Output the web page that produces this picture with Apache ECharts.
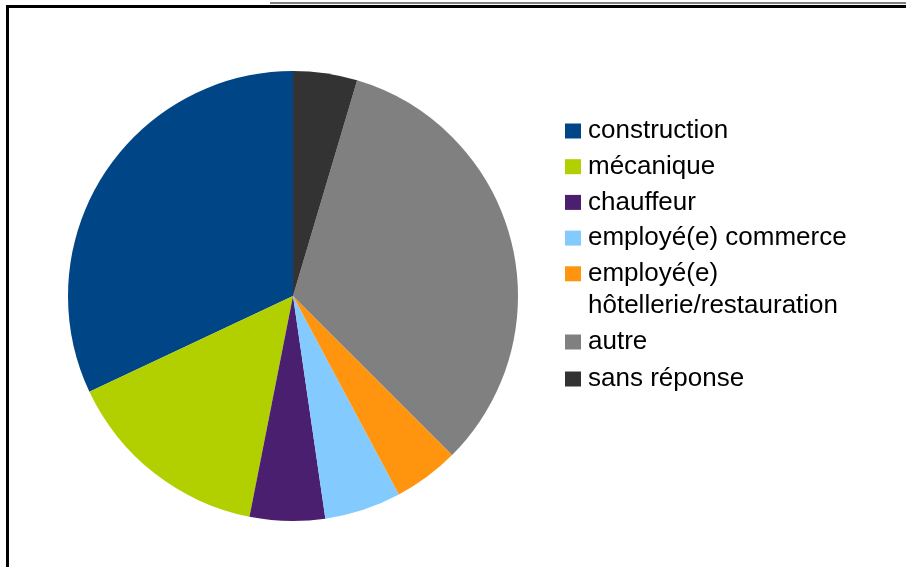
<!DOCTYPE html>
<html>
<head>
<meta charset="utf-8">
<script src="https://cdn.jsdelivr.net/npm/echarts@6/dist/echarts.min.js"></script>
<style>
  html, body { margin: 0; padding: 0; background: #fff; }
  #chart { width: 906px; height: 567px; }
</style>
</head>
<body>
<div id="chart"></div>
<script>
  // métiers (share of answers)
  const categories = ['construction', 'mécanique', 'chauffeur', 'employé(e) commerce',
    'employé(e) hôtellerie/restauration', 'autre', 'sans réponse'];
  const values = [32.0, 14.9, 5.4, 5.5, 4.7, 32.9, 4.6];
  const colors = ['#004586', '#b2cf00', '#4b1f6f', '#83caff', '#ff950e', '#808080', '#333333'];

  const font = '"Liberation Sans", Arial, sans-serif';
  const legendText = {
    fontFamily: font, fontSize: 26, color: '#000', lineHeight: 33, padding: [0, 0, 0, 2]
  };

  const chart = echarts.init(document.getElementById('chart'));
  chart.setOption({
    animation: false,
    color: colors,
    legend: [
      {
        // first block, the orange entry only shows its first line here
        data: categories.slice(0, 5),
        orient: 'vertical',
        left: 565, top: 114.5,
        padding: 0, itemGap: 2.7,
        itemWidth: 16, itemHeight: 15,
        icon: 'rect',
        selectedMode: false,
        textStyle: legendText,
        formatter: name => name === categories[4] ? 'employé(e)' : name
      },
      {
        data: categories.slice(5),
        orient: 'vertical',
        left: 565, top: 325.5,
        padding: 0, itemGap: 4,
        itemWidth: 16, itemHeight: 15,
        icon: 'rect',
        selectedMode: false,
        textStyle: legendText
      }
    ],
    graphic: [
      {
        type: 'rect', silent: true,
        shape: { x: 7.5, y: 6.5, width: 1200, height: 1200 },
        style: { fill: 'none', stroke: '#000', lineWidth: 3 }
      },
      {
        type: 'line', silent: true,
        shape: { x1: 270, y1: 3, x2: 906, y2: 3 },
        style: { stroke: '#000', lineWidth: 1 }
      },
      {
        type: 'text', silent: true, left: 588, top: 289.5,
        style: {
          text: 'hôtellerie/restauration', fontFamily: font, fontSize: 26,
          fill: '#000', lineHeight: 33
        }
      }
    ],
    series: [
      {
        type: 'pie',
        center: [293, 296],
        radius: 225,
        startAngle: 90,
        clockwise: false,
        label: { show: false },
        labelLine: { show: false },
        itemStyle: { borderWidth: 0 },
        emphasis: { disabled: true },
        data: categories.map((name, i) => ({ name: name, value: values[i] }))
      }
    ]
  });
</script>
</body>
</html>
